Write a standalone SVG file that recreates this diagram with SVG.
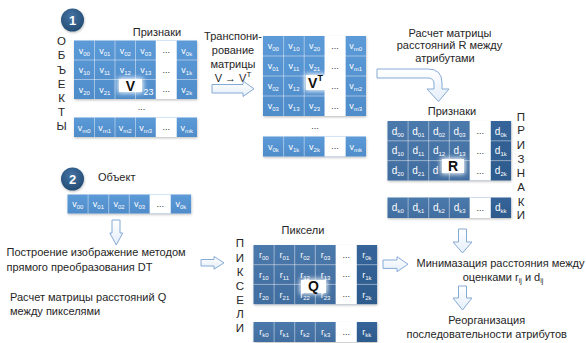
<svg xmlns="http://www.w3.org/2000/svg" width="586" height="343" viewBox="0 0 586 343">
<style>
text{font-family:"Liberation Sans",Arial,sans-serif}
.t{font-size:11px;fill:#262626}
.tm{font-size:11px;fill:#262626;text-anchor:middle}
.vl{font-size:11.5px;fill:#262626;text-anchor:middle}
.c{font-size:9px;fill:#fff;text-anchor:middle}
.c tspan{font-size:6px}
.cd{font-size:10px;fill:#fff;text-anchor:middle}
.cd tspan{font-size:6px}
.d{font-size:9px;fill:#333;text-anchor:middle}
.grid{stroke:#fff;stroke-opacity:.45;stroke-width:1;fill:none}
.gap{fill:#fff}
.lb{font-size:14px;font-weight:bold;fill:#111;text-anchor:middle}
.arr{fill:url(#ga);stroke:#86aad6;stroke-width:1}
.num{font-size:13px;font-weight:bold;fill:#fff;text-anchor:middle}
</style>
<defs>
<linearGradient id="gL" x1="0" y1="0" x2="0" y2="1"><stop offset="0" stop-color="#5c9ad8"/><stop offset="1" stop-color="#4f8cca"/></linearGradient>
<linearGradient id="gD" x1="0" y1="0" x2="0" y2="1"><stop offset="0" stop-color="#4b79ac"/><stop offset="1" stop-color="#416d9f"/></linearGradient>
<linearGradient id="gK" x1="0" y1="0" x2="0" y2="1"><stop offset="0" stop-color="#36659a"/><stop offset="1" stop-color="#2d5a8c"/></linearGradient>
<linearGradient id="ga" x1="0" y1="0" x2="0" y2="1"><stop offset="0" stop-color="#ffffff"/><stop offset="1" stop-color="#e4eef9"/></linearGradient>
<radialGradient id="gc" cx="0.45" cy="0.35" r="0.7"><stop offset="0" stop-color="#4474a6"/><stop offset="1" stop-color="#22496f"/></radialGradient>
<filter id="glow" x="-30%" y="-40%" width="160%" height="180%"><feGaussianBlur stdDeviation="2.5"/></filter>
<filter id="sh" x="-10%" y="-20%" width="120%" height="150%"><feDropShadow dx="0.5" dy="1.2" stdDeviation="1" flood-color="#000" flood-opacity=".25"/></filter>
</defs>
<rect width="586" height="343" fill="#fff"/>

<g id="step1">
<circle cx="72.5" cy="20" r="11.5" fill="url(#gc)" filter="url(#sh)"/>
<text class="num" x="72.5" y="24.5">1</text>
</g>
<g id="step2">
<circle cx="72.5" cy="179" r="11.5" fill="url(#gc)" filter="url(#sh)"/>
<text class="num" x="72.5" y="183.5">2</text>
</g>

<g id="matrixV">
<text class="tm" x="157" y="35.5">Признаки</text>
<g class="vl">
<text x="61.5" y="45">О</text><text x="61.5" y="59.3">Б</text><text x="61.5" y="74">Ъ</text><text x="61.5" y="88.3">Е</text><text x="61.5" y="101.7">К</text><text x="61.5" y="115.5">Т</text><text x="61.5" y="130">Ы</text>
</g>
<g filter="url(#sh)">
<rect x="74" y="40.5" width="123" height="58.5" fill="url(#gL)"/>
<rect x="74" y="117.5" width="123" height="19.5" fill="url(#gL)"/>
</g>
<rect class="gap" x="156" y="40.5" width="20.5" height="58.5"/>
<rect class="gap" x="156" y="117.5" width="20.5" height="19.5"/>
<path class="grid" d="M94.5,40.5V99M115,40.5V99M135.5,40.5V99M156,40.5V99M176.5,40.5V99M74,60H197M74,79.5H197M94.5,117.5V137M115,117.5V137M135.5,117.5V137M156,117.5V137M176.5,117.5V137"/>
<text class="c" x="84.25" y="53.5">v<tspan dy="2">00</tspan></text><text class="c" x="104.75" y="53.5">v<tspan dy="2">01</tspan></text><text class="c" x="125.25" y="53.5">v<tspan dy="2">02</tspan></text><text class="c" x="145.75" y="53.5">v<tspan dy="2">03</tspan></text><text class="d" x="166.25" y="53">...</text><text class="c" x="186.75" y="53.5">v<tspan dy="2">0k</tspan></text>
<text class="c" x="84.25" y="73">v<tspan dy="2">10</tspan></text><text class="c" x="104.75" y="73">v<tspan dy="2">11</tspan></text><text class="c" x="125.25" y="73">v<tspan dy="2">12</tspan></text><text class="c" x="145.75" y="73">v<tspan dy="2">13</tspan></text><text class="d" x="166.25" y="72.5">...</text><text class="c" x="186.75" y="73">v<tspan dy="2">1k</tspan></text>
<text class="c" x="84.25" y="92.5">v<tspan dy="2">20</tspan></text><text class="c" x="104.75" y="92.5">v<tspan dy="2">21</tspan></text><text class="c" x="148.5" y="94.5" font-size="6">23</text><text class="d" x="166.25" y="92">...</text><text class="c" x="186.75" y="92.5">v<tspan dy="2">2k</tspan></text>
<text class="d" x="141.5" y="110">...</text>
<text class="c" x="84.25" y="130.5">v<tspan dy="2">m0</tspan></text><text class="c" x="104.75" y="130.5">v<tspan dy="2">m1</tspan></text><text class="c" x="125.25" y="130.5">v<tspan dy="2">m2</tspan></text><text class="c" x="145.75" y="130.5">v<tspan dy="2">m3</tspan></text><text class="d" x="166.25" y="130">...</text><text class="c" x="186.75" y="130.5">v<tspan dy="2">mk</tspan></text>
<rect x="118" y="78" width="25" height="15" fill="#fff" filter="url(#glow)"/>
<rect x="119" y="79" width="23" height="13" fill="#fff"/>
<text class="lb" x="130.5" y="90.5">V</text>
</g>

<g id="transposeLabel">
<text class="tm" x="233" y="40">Транспони-</text>
<text class="tm" x="233" y="54">рование</text>
<text class="tm" x="233" y="68">матрицы</text>
<text class="tm" x="233" y="82">V → V<tspan dy="-5" font-size="8">T</tspan></text>
</g>

<g id="matrixVT">
<g filter="url(#sh)">
<rect x="263" y="36" width="103" height="80" fill="url(#gL)"/>
<rect x="263" y="136.5" width="103" height="20" fill="url(#gL)"/>
</g>
<rect class="gap" x="324.8" y="36" width="20.6" height="80"/>
<rect class="gap" x="324.8" y="136.5" width="20.6" height="20"/>
<path class="grid" d="M283.6,36V116M304.2,36V116M324.8,36V116M345.4,36V116M263,56H366M263,76H366M263,96H366M283.6,136.5V156.5M304.2,136.5V156.5M324.8,136.5V156.5M345.4,136.5V156.5"/>
<text class="c" x="273.3" y="49">v<tspan dy="2">00</tspan></text><text class="c" x="293.9" y="49">v<tspan dy="2">10</tspan></text><text class="c" x="314.5" y="49">v<tspan dy="2">20</tspan></text><text class="d" x="335.1" y="48.5">...</text><text class="c" x="355.7" y="49">v<tspan dy="2">m0</tspan></text>
<text class="c" x="273.3" y="69">v<tspan dy="2">01</tspan></text><text class="c" x="293.9" y="69">v<tspan dy="2">11</tspan></text><text class="c" x="314.5" y="69">v<tspan dy="2">21</tspan></text><text class="d" x="335.1" y="68.5">...</text><text class="c" x="355.7" y="69">v<tspan dy="2">m1</tspan></text>
<text class="c" x="273.3" y="89">v<tspan dy="2">02</tspan></text><text class="c" x="293.9" y="89">v<tspan dy="2">12</tspan></text><text class="d" x="335.1" y="88.5">...</text><text class="c" x="355.7" y="89">v<tspan dy="2">m2</tspan></text>
<text class="c" x="273.3" y="109">v<tspan dy="2">03</tspan></text><text class="c" x="293.9" y="109">v<tspan dy="2">13</tspan></text><text class="c" x="314.5" y="109">v<tspan dy="2">23</tspan></text><text class="d" x="335.1" y="108.5">...</text><text class="c" x="355.7" y="109">v<tspan dy="2">m3</tspan></text>
<text class="d" x="315" y="129">...</text>
<text class="c" x="273.3" y="149.5">v<tspan dy="2">0k</tspan></text><text class="c" x="293.9" y="149.5">v<tspan dy="2">1k</tspan></text><text class="c" x="314.5" y="149.5">v<tspan dy="2">2k</tspan></text><text class="d" x="335.1" y="149">...</text><text class="c" x="355.7" y="149.5">v<tspan dy="2">mk</tspan></text>
<rect x="305" y="74" width="23" height="17" fill="#fff" filter="url(#glow)"/>
<rect x="306" y="75" width="21" height="15" fill="#fff"/>
<text class="lb" x="315.5" y="87.5">V<tspan dy="-7" font-size="9">T</tspan></text>
</g>

<g id="distanceLabelR">
<text class="tm" x="450" y="36.5">Расчет матрицы</text>
<text class="tm" x="449.5" y="49">расстояний R между</text>
<text class="tm" x="445" y="62">атрибутами</text>
</g>

<g id="matrixR">
<text class="tm" x="452" y="114.5">Признаки</text>
<g class="vl">
<text x="521" y="120.7">П</text><text x="521" y="134.3">Р</text><text x="521" y="149">И</text><text x="521" y="163.3">З</text><text x="521" y="176.7">Н</text><text x="521" y="190.7">А</text><text x="521" y="205.7">К</text><text x="521" y="219">И</text>
</g>
<g filter="url(#sh)">
<rect x="387.5" y="121" width="103" height="59.5" fill="url(#gD)"/>
<rect x="490.5" y="121" width="20.6" height="59.5" fill="url(#gK)"/>
<rect x="387.5" y="197.5" width="103" height="20.5" fill="url(#gD)"/>
<rect x="490.5" y="197.5" width="20.6" height="20.5" fill="url(#gK)"/>
</g>
<rect class="gap" x="469.9" y="121" width="20.6" height="59.5"/>
<rect class="gap" x="469.9" y="197.5" width="20.6" height="20.5"/>
<path class="grid" d="M408.1,121V180.5M428.7,121V180.5M449.3,121V180.5M469.9,121V180.5M490.5,121V180.5M387.5,140.8H511.1M387.5,160.6H511.1M408.1,197.5V218M428.7,197.5V218M449.3,197.5V218M469.9,197.5V218M490.5,197.5V218"/>
<text class="cd" x="397.8" y="134.5">d<tspan dy="2">00</tspan></text><text class="cd" x="418.4" y="134.5">d<tspan dy="2">01</tspan></text><text class="cd" x="439" y="134.5">d<tspan dy="2">02</tspan></text><text class="cd" x="459.6" y="134.5">d<tspan dy="2">03</tspan></text><text class="d" x="480.2" y="134">...</text><text class="cd" x="500.8" y="134.5">d<tspan dy="2">0k</tspan></text>
<text class="cd" x="397.8" y="154">d<tspan dy="2">10</tspan></text><text class="cd" x="418.4" y="154">d<tspan dy="2">11</tspan></text><text class="cd" x="439" y="154">d<tspan dy="2">12</tspan></text><text class="cd" x="459.6" y="154">d<tspan dy="2">13</tspan></text><text class="d" x="480.2" y="153.5">...</text><text class="cd" x="500.8" y="154">d<tspan dy="2">1k</tspan></text>
<text class="cd" x="397.8" y="174">d<tspan dy="2">20</tspan></text><text class="cd" x="418.4" y="174">d<tspan dy="2">21</tspan></text><text class="cd" x="435.5" y="174">d</text><text class="d" x="480.2" y="173.5">...</text><text class="cd" x="500.8" y="174">d<tspan dy="2">2k</tspan></text>
<text class="cd" x="397.8" y="211">d<tspan dy="2">k0</tspan></text><text class="cd" x="418.4" y="211">d<tspan dy="2">k1</tspan></text><text class="cd" x="439" y="211">d<tspan dy="2">k2</tspan></text><text class="cd" x="459.6" y="211">d<tspan dy="2">k3</tspan></text><text class="d" x="480.2" y="210.5">...</text><text class="cd" x="500.8" y="211">d<tspan dy="2">kk</tspan></text>
<rect x="441" y="158" width="24" height="16" fill="#fff" filter="url(#glow)"/>
<rect x="442" y="159" width="22" height="14" fill="#fff"/>
<text class="lb" x="453" y="171" font-size="13">R</text>
</g>

<g id="objectRow">
<text class="t" x="98" y="181">Объект</text>
<g filter="url(#sh)">
<rect x="67.5" y="194.5" width="123.6" height="19" fill="url(#gL)"/>
</g>
<rect class="gap" x="149.9" y="194.5" width="20.6" height="19"/>
<path class="grid" d="M88.1,194.5V213.5M108.7,194.5V213.5M129.3,194.5V213.5M149.9,194.5V213.5M170.5,194.5V213.5"/>
<text class="c" x="77.8" y="207">v<tspan dy="2">00</tspan></text><text class="c" x="98.4" y="207">v<tspan dy="2">01</tspan></text><text class="c" x="119" y="207">v<tspan dy="2">02</tspan></text><text class="c" x="139.6" y="207">v<tspan dy="2">03</tspan></text><text class="d" x="160.2" y="206.5">...</text><text class="c" x="180.8" y="207">v<tspan dy="2">0k</tspan></text>
</g>

<g id="buildImageLabel">
<text class="t" x="6.5" y="256">Построение изображение методом</text>
<text class="t" x="6.5" y="270.5">прямого преобразования DT</text>
</g>
<g id="distanceLabelQ">
<text class="t" x="10" y="301">Расчет матрицы расстояний Q</text>
<text class="t" x="10" y="315">между пикселями</text>
</g>

<g id="matrixQ">
<text class="tm" x="303" y="234">Пиксели</text>
<g class="vl">
<text x="240" y="247.3">П</text><text x="240" y="261.7">И</text><text x="240" y="276">К</text><text x="240" y="290">С</text><text x="240" y="304">Е</text><text x="240" y="317.7">Л</text><text x="240" y="331.7">И</text>
</g>
<g filter="url(#sh)">
<rect x="253.5" y="245" width="103" height="59.2" fill="url(#gD)"/>
<rect x="356.5" y="245" width="20.6" height="59.2" fill="url(#gK)"/>
<rect x="253.5" y="322" width="103" height="20" fill="url(#gD)"/>
<rect x="356.5" y="322" width="20.6" height="20" fill="url(#gK)"/>
</g>
<rect class="gap" x="335.9" y="245" width="20.6" height="59.2"/>
<rect class="gap" x="335.9" y="322" width="20.6" height="20"/>
<path class="grid" d="M274.1,245V304.2M294.7,245V304.2M315.3,245V304.2M335.9,245V304.2M356.5,245V304.2M253.5,264.7H377.1M253.5,284.4H377.1M274.1,322V342M294.7,322V342M315.3,322V342M335.9,322V342M356.5,322V342"/>
<text class="c" x="263.8" y="258">r<tspan dy="2">00</tspan></text><text class="c" x="284.4" y="258">r<tspan dy="2">01</tspan></text><text class="c" x="305" y="258">r<tspan dy="2">02</tspan></text><text class="c" x="325.6" y="258">r<tspan dy="2">03</tspan></text><text class="d" x="346.2" y="257.5">...</text><text class="c" x="366.8" y="258">r<tspan dy="2">0k</tspan></text>
<text class="c" x="263.8" y="277.7">r<tspan dy="2">10</tspan></text><text class="c" x="284.4" y="277.7">r<tspan dy="2">11</tspan></text><text class="c" x="305" y="277.7">r<tspan dy="2">12</tspan></text><text class="c" x="325.6" y="277.7">r<tspan dy="2">13</tspan></text><text class="d" x="346.2" y="277.2">...</text><text class="c" x="366.8" y="277.7">r<tspan dy="2">1k</tspan></text>
<text class="c" x="263.8" y="297.5">r<tspan dy="2">20</tspan></text><text class="c" x="284.4" y="297.5">r<tspan dy="2">21</tspan></text><text class="c" x="305" y="297.5">r<tspan dy="2">22</tspan></text><text class="c" x="325.6" y="297.5">r<tspan dy="2">23</tspan></text><text class="d" x="346.2" y="297">...</text><text class="c" x="366.8" y="297.5">r<tspan dy="2">2k</tspan></text>
<text class="c" x="263.8" y="335">r<tspan dy="2">k0</tspan></text><text class="c" x="284.4" y="335">r<tspan dy="2">k1</tspan></text><text class="c" x="305" y="335">r<tspan dy="2">k2</tspan></text><text class="c" x="325.6" y="335">r<tspan dy="2">k3</tspan></text><text class="d" x="346.2" y="334.5">...</text><text class="c" x="366.8" y="335">r<tspan dy="2">kk</tspan></text>
<rect x="300" y="279" width="27" height="15" fill="#fff" filter="url(#glow)"/>
<rect x="301" y="280" width="25" height="13" fill="#fff"/>
<text class="lb" x="313.5" y="291">Q</text>
</g>

<g id="minimizeLabel">
<text class="tm" x="500.5" y="267.3">Минимазация расстояния между</text>
<text class="tm" x="503" y="281">оценками  r<tspan dy="2" font-size="7">ij</tspan><tspan dy="-2"> и d</tspan><tspan dy="2" font-size="7">ij</tspan></text>
</g>
<g id="reorgLabel">
<text class="tm" x="486.7" y="324">Реорганизация</text>
<text class="tm" x="486.7" y="337.5">последовательности атрибутов</text>
</g>

<g id="connectors">
<path class="arr" d="M212,84.5H243V81L254,88.75L243,96.5V93H212Z"/>
<path class="arr" d="M377,69H428Q442,69 442,83V89H449L438.5,101.5L427,89H434V84Q434,78 428,78H377Z"/>
<path class="arr" d="M112,220H120V233H122.7L116.3,245L109.8,233H112Z"/>
<path class="arr" d="M201,259.5H214V256.5L224,262.8L214,269.2V266H201Z"/>
<path class="arr" d="M383,260H397V256.7L408,264.2L397,271.7V268.4H383Z"/>
<path class="arr" d="M458.5,229H466.5V242H472L462.5,253L453,242H458.5Z"/>
<path class="arr" d="M458.5,286H466.5V298H472L462.5,310L453,298H458.5Z"/>
</g>
</svg>
